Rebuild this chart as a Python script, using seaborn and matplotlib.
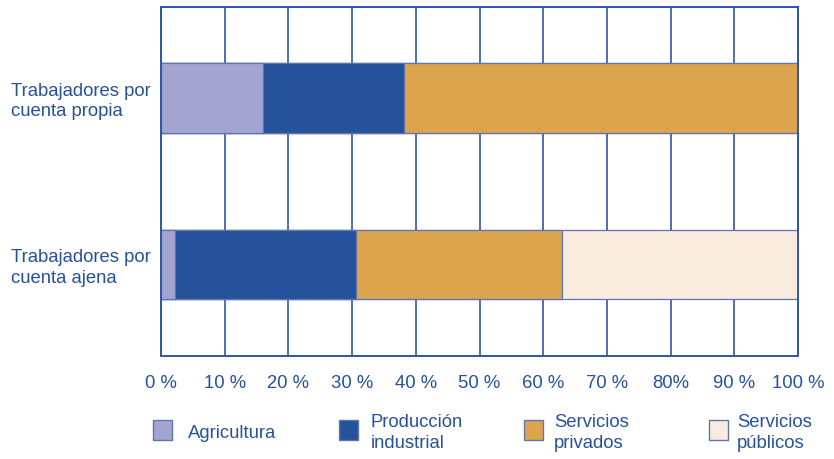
import numpy as np
import pandas as pd
import matplotlib
matplotlib.use("Agg")
import matplotlib.pyplot as plt
from matplotlib.patches import Rectangle
import seaborn as sns

# data (percent of workers by sector)
groups     = ["Trabajadores por\ncuenta propia", "Trabajadores por\ncuenta ajena"]
sectors    = ["Agricultura", "Producción\nindustrial", "Servicios\nprivados", "Servicios\npúblicos"]
agricultura = [16.0, 2.2]
produccion  = [22.1, 28.4]
privados    = [61.9, 32.4]
publicos    = [0.0, 37.0]
tick_vals   = [0, 10, 20, 30, 40, 50, 60, 70, 80, 90, 100]
tick_labels = ["0 %", "10 %", "20 %", "30 %", "40 %", "50 %", "60 %", "70 %", "80%", "90 %", "100 %"]

COLORS    = ["#A3A4D0", "#26519B", "#DCA44D", "#FAEBDF"]
BLUE      = "#26519B"
EDGE      = "#5D76AE"
FS        = 13.3

sns.set_theme(style="white")
plt.rcParams["font.family"] = ["Liberation Sans", "DejaVu Sans"]

df = pd.DataFrame({"group": groups, "a": agricultura, "b": produccion,
                   "c": privados, "d": publicos})
cols = ["a", "b", "c", "d"]
cum = df[cols].cumsum(axis=1)

fig = plt.figure(figsize=(8.34, 4.59), dpi=100)
ax = fig.add_axes([161 / 834, 1 - 356 / 459, (798 - 161) / 834, (356 - 7) / 459])

# stacked bars: draw cumulative totals from the outermost segment inward
for col, clr in reversed(list(zip(cols, COLORS))):
    sns.barplot(x=cum[col], y=df["group"], orient="h", color=clr,
                width=0.42, edgecolor=EDGE, linewidth=0.9, ax=ax,
                saturation=1)

ax.set_xlim(0, 100)
ax.set_ylim(1.55, -0.547)
ax.set_xticks(tick_vals)
ax.set_xticklabels(tick_labels, color=BLUE, fontsize=FS)
ax.set_xlabel("")
ax.set_ylabel("")
ax.tick_params(axis="x", length=0, pad=14)
ax.tick_params(axis="y", length=0, pad=108)
for lbl in ax.get_yticklabels():
    lbl.set_ha("left")
    lbl.set_color(BLUE)
    lbl.set_fontsize(FS)
    lbl.set_linespacing(1.25)

ax.xaxis.grid(True, color="#2C57A6", linewidth=1.2)
ax.set_axisbelow(True)
for sp in ax.spines.values():
    sp.set_color("#2C57A6")
    sp.set_linewidth(1.4)

# legend
leg_patch_x = [153, 339, 524, 709]
leg_text_x  = [188, 371, 554, 737]
for px, tx, clr, name in zip(leg_patch_x, leg_text_x, COLORS, sectors):
    fig.add_artist(Rectangle((px / 834, 1 - 440 / 459), 19 / 834, 20 / 459,
                             transform=fig.transFigure, facecolor=clr,
                             edgecolor=EDGE, linewidth=1.0))
    fig.text(tx / 834, 1 - 433 / 459, name, color=BLUE, fontsize=FS,
             ha="left", va="center", linespacing=1.25)

fig.savefig("out.png", dpi=100, facecolor="white")
